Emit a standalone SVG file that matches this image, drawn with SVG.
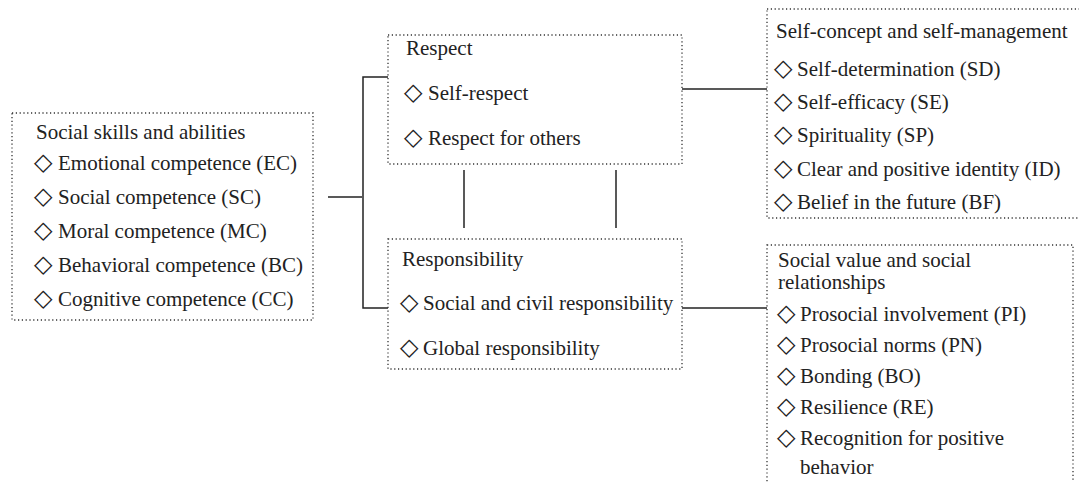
<svg xmlns="http://www.w3.org/2000/svg" width="1079" height="482" viewBox="0 0 1079 482">
<style>
.box{fill:none;stroke:#333;stroke-width:1.3;stroke-dasharray:1.2 2.6}
.t{font-family:"Liberation Serif","Times New Roman",serif;font-size:21px;fill:#222}
.d{font-family:"DejaVu Sans",sans-serif;font-size:24px;fill:#222}
.c{fill:none;stroke:#222;stroke-width:1.5}
</style>
<rect width="1079" height="482" fill="#fff"/>
<g id="connectors">
<path class="c" d="M328,197 H362"/>
<path class="c" d="M388,77 H363 V308 H388"/>
<path class="c" d="M464,170 V228"/>
<path class="c" d="M616,170 V228"/>
<path class="c" d="M682,89 H767"/>
<path class="c" d="M682,308 H767"/>
</g>
<g id="social-skills">
<rect class="box" x="12" y="113" width="301" height="207"/>
<text class="t" x="36" y="139">Social skills and abilities</text>
<text class="d" x="34" y="170">◇</text><text class="t" x="58" y="170">Emotional competence (EC)</text>
<text class="d" x="34" y="204">◇</text><text class="t" x="58" y="204">Social competence (SC)</text>
<text class="d" x="34" y="238">◇</text><text class="t" x="58" y="238">Moral competence (MC)</text>
<text class="d" x="34" y="272">◇</text><text class="t" x="58" y="272">Behavioral competence (BC)</text>
<text class="d" x="34" y="306">◇</text><text class="t" x="58" y="306">Cognitive competence (CC)</text>
</g>
<g id="respect">
<rect class="box" x="388" y="35" width="294" height="129"/>
<text class="t" x="406" y="55">Respect</text>
<text class="d" x="404" y="100">◇</text><text class="t" x="428" y="100">Self-respect</text>
<text class="d" x="404" y="145">◇</text><text class="t" x="428" y="145">Respect for others</text>
</g>
<g id="responsibility">
<rect class="box" x="388" y="239" width="294" height="130"/>
<text class="t" x="402" y="266">Responsibility</text>
<text class="d" x="400" y="310">◇</text><text class="t" x="423" y="310">Social and civil responsibility</text>
<text class="d" x="400" y="355">◇</text><text class="t" x="423" y="355">Global responsibility</text>
</g>
<g id="self-concept">
<rect class="box" x="767" y="9" width="330" height="209"/>
<text class="t" x="776" y="38">Self-concept and self-management</text>
<text class="d" x="774" y="76">◇</text><text class="t" x="797" y="76">Self-determination (SD)</text>
<text class="d" x="774" y="109">◇</text><text class="t" x="797" y="109">Self-efficacy (SE)</text>
<text class="d" x="774" y="142">◇</text><text class="t" x="797" y="142">Spirituality (SP)</text>
<text class="d" x="774" y="176">◇</text><text class="t" x="797" y="176">Clear and positive identity (ID)</text>
<text class="d" x="774" y="209">◇</text><text class="t" x="797" y="209">Belief in the future (BF)</text>
</g>
<g id="social-value">
<rect class="box" x="767" y="245" width="306" height="270"/>
<text class="t" x="778" y="267">Social value and social</text>
<text class="t" x="778" y="289">relationships</text>
<text class="d" x="777" y="321">◇</text><text class="t" x="800" y="321">Prosocial involvement (PI)</text>
<text class="d" x="777" y="352">◇</text><text class="t" x="800" y="352">Prosocial norms (PN)</text>
<text class="d" x="777" y="383">◇</text><text class="t" x="800" y="383">Bonding (BO)</text>
<text class="d" x="777" y="414">◇</text><text class="t" x="800" y="414">Resilience (RE)</text>
<text class="d" x="777" y="445">◇</text><text class="t" x="800" y="445">Recognition for positive</text>
<text class="t" x="800" y="474">behavior</text>
</g>
</svg>
